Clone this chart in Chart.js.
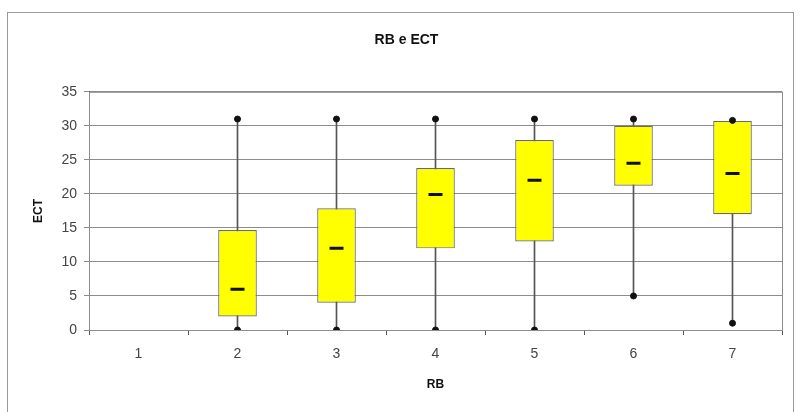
<!DOCTYPE html>
<html>
<head>
<meta charset="utf-8">
<script src="https://cdn.jsdelivr.net/npm/chart.js@4.4.1/dist/chart.umd.min.js"></script>
<style>
  body { margin: 0; background: #fff; }
  #frame { position: absolute; left: 7px; top: 12px; width: 785px; height: 420px; border: 1px solid #9a9a9a; }
  #wrap { position: absolute; left: 0; top: 0; width: 802px; height: 412px; }
</style>
</head>
<body>
<div id="frame"></div>
<div id="wrap"><canvas id="myChart" width="802" height="412"></canvas></div>
<script>
Chart.defaults.font.family = 'Liberation Sans';
Chart.defaults.font.size = 13;

const labels = ['1', '2', '3', '4', '5', '6', '7'];
const minVals = [null, 0, 0, 0, 0, 5, 1];
const q1Vals = [null, 2, 4, 12, 13, 21.2, 17];
const medVals = [null, 6, 12, 19.9, 22, 24.5, 23];
const q3Vals = [null, 14.7, 17.9, 23.8, 27.9, 30, 30.7];
const maxVals = [null, 31, 31, 31, 31, 31, 30.8];
const yTicks = [0, 5, 10, 15, 20, 25, 30, 35];

const whiskers = labels.map((l, i) => minVals[i] === null ? null : [minVals[i], maxVals[i]]);
const boxes = labels.map((l, i) => q1Vals[i] === null ? null : [q1Vals[i], q3Vals[i]]);

const plotBorder = {
  id: 'plotBorder',
  afterDraw(chart) {
    const a = chart.chartArea, ctx = chart.ctx;
    ctx.save();
    ctx.strokeStyle = '#8c8c8c';
    ctx.lineWidth = 1;
    ctx.strokeRect(a.left + 0.5, a.top + 0.5, a.right - a.left, a.bottom - a.top);
    ctx.restore();
  }
};

const data = {
  labels: labels,
  datasets: [{
    type: 'bar',
    label: 'whisker',
    data: whiskers,
    backgroundColor: '#555',
    barThickness: 1,
    grouped: false,
    order: 3
  }, {
    type: 'bar',
    label: 'box',
    data: boxes,
    backgroundColor: '#ffff00',
    borderColor: '#6a6a6a',
    borderWidth: 1.2,
    borderSkipped: false,
    barPercentage: 0.39,
    categoryPercentage: 1,
    grouped: false,
    order: 2
  }, {
    type: 'line',
    label: 'median',
    data: medVals,
    showLine: false,
    pointStyle: 'line',
    pointRadius: 7,
    pointBorderWidth: 3,
    pointBorderColor: '#111',
    order: 1
  }, {
    type: 'line',
    label: 'max',
    data: maxVals,
    showLine: false,
    pointRadius: 3,
    pointBackgroundColor: '#111',
    pointBorderColor: '#111',
    order: 0
  }, {
    type: 'line',
    label: 'min',
    data: minVals,
    showLine: false,
    pointRadius: 3,
    pointBackgroundColor: '#111',
    pointBorderColor: '#111',
    order: 0
  }]
};

const config = {
  type: 'bar',
  data: data,
  options: {
    responsive: false,
    animation: false,
    layout: {
      padding: { left: 31, right: 20, top: 0, bottom: 10 }
    },
    plugins: {
      legend: { display: false },
      tooltip: { enabled: false },
      title: {
        display: true,
        text: 'RB e ECT',
        color: '#111',
        font: { size: 14, weight: 'bold' },
        padding: { top: 32, bottom: 43 }
      }
    },
    scales: {
      x: {
        afterFit: (scale) => { scale.height = 72; },
        grid: {
          display: true,
          drawOnChartArea: false,
          drawTicks: true,
          tickLength: 5,
          color: '#555',
          offset: true
        },
        border: { color: '#555' },
        ticks: { color: '#444', padding: 11, font: { size: 14 } },
        title: {
          display: true,
          text: 'RB',
          color: '#111',
          font: { size: 12, weight: 'bold' },
          padding: { top: 4, bottom: 10 }
        }
      },
      y: {
        min: 0,
        max: 35,
        afterFit: (scale) => { scale.width = 58; },
        afterBuildTicks: (scale) => { scale.ticks = yTicks.map(v => ({ value: v })); },
        grid: {
          color: '#8c8c8c',
          tickLength: 5,
          lineWidth: 1
        },
        border: { color: '#555' },
        ticks: { color: '#444', padding: 7, font: { size: 14 } },
        title: {
          display: true,
          text: 'ECT',
          color: '#111',
          font: { size: 12, weight: 'bold' },
          padding: { top: 0, bottom: 8 }
        }
      }
    }
  },
  plugins: [plotBorder]
};

const myChart = new Chart(document.getElementById('myChart'), config);
</script>
</body>
</html>
